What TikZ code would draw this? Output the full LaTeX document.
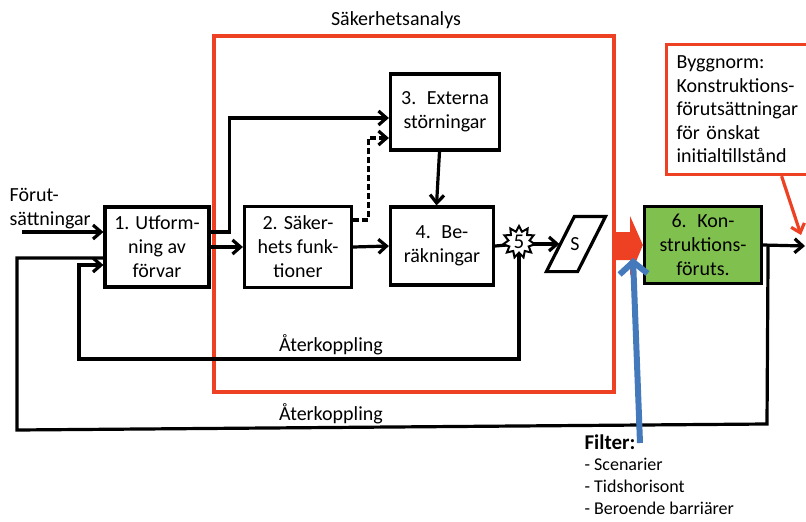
\documentclass[tikz,border=0pt]{standalone}
\usepackage{fontspec}
\setmainfont{Carlito}
\usetikzlibrary{shapes,shapes.geometric,arrows.meta}
\definecolor{sred}{RGB}{238,65,36}
\definecolor{sblue}{RGB}{68,122,187}
\definecolor{sgreen}{RGB}{128,192,78}

\begin{document}
\begin{tikzpicture}[x=1pt,y=-1pt,line width=3.2pt,
	  >={Straight Barb[length=8pt,width=14pt]},
	  every node/.append style={font=\fontsize{20}{24}\selectfont}]
	  \tikzstyle{box} = [draw,rectangle,align=center,inner sep=2pt]
	  \tikzstyle{word} = [align=left,inner sep=0pt]
	  \clip (0,0) rectangle (806,522);
	  % safety analysis frame
	  \node (safety) [draw=sred,minimum width=400,minimum height=356] at (414,214) {};
	  \node (lbl_safety) at (396,20) {Säkerhetsanalys};
	  % blocks
	  \node (box_1) [box,minimum width=104,minimum height=80] at (157,247) {1. Utform-\\ning av\\förvar};
	  \node (box_2) [box,minimum width=107,minimum height=81] at (298,247) {2. Säker-\\hets funk-\\tioner};
	  \node (box_3) [box,minimum width=109,minimum height=76] at (445,112) {3.~ Externa\\störningar};
	  \node (box_4) [box,minimum width=103,minimum height=78] at (442,246) {4.~ Be-\\räkningar};
	  \node (box_6) [box,fill=sgreen,minimum width=117,minimum height=77] at (703,245) {6.~ Kon-\\struktions-\\föruts.};
	  \node (s_par) [minimum width=28,minimum height=52,inner sep=0pt] at (575,244) {S};
	  \node (byg) [draw=sred,anchor=north west,minimum width=160,minimum height=130,
	    text width=140,inner xsep=8pt,align=left,font=\fontsize{20}{23.5}\selectfont] at (665,43)
	    {Byggnorm:\\Konstruktions-\\förutsättningar\\för önskat\\initialtillstånd};
	  \node (pre) [word,anchor=west] at (8,209) {Förut-\\sättningar};
	  \node (fb_lbl_1) at (331,345) {Återkoppling};
	  \node (fb_lbl_2) at (331,414) {Återkoppling};
	  \node (filter) [word,anchor=south west,font=\fontsize{21}{21}\selectfont\bfseries] at (583,451) {Filter:};
	  \node (filter_list) [word,anchor=north west,font=\fontsize{18}{22}\selectfont] at (583,457)
	    {- Scenarier\\- Tidshorisont\\- Beroende barriärer};
	  \coordinate (in_1) at (22,232);
	  \coordinate (out) at (805,246);
	  \coordinate (fb_1) at (79,359);
	  \coordinate (fb_2a) at (767,424);
	  \coordinate (fb_2b) at (17,430);
	  \coordinate (f_top) at (640,443);
	  \coordinate (f_tip) at (633,258);
	  % connectors
	  \draw[->] (in_1) -- ([yshift=15pt]box_1.west);
	  \draw[->] (box_1.east) -- (box_2.west);
	  \draw[->] ([yshift=15pt]box_1.east) -- ++(19,0) |- ([yshift=-6pt]box_3.west);
	  \draw[->,dashed,dash pattern=on 6pt off 3pt] ([yshift=27pt]box_2.east) -- ++(15,0) |- ([yshift=-26pt]box_3.west);
	  \draw[->] ([xshift=-5.5pt]box_3.south) -- ([xshift=-5.5pt]box_4.north);
	  \draw[->] (box_2.east) -- (box_4.west);
	  \draw (box_4.east) -- (519,244);
	  \draw[->] (519,244) -- (s_par.west);
	  \draw ([xshift=15pt]s_par.north west) -- ([xshift=15pt]s_par.north east)
	    -- ([xshift=-13pt]s_par.south east) -- ([xshift=-13pt]s_par.south west) -- cycle;
	  \draw[->] (519,244) |- (fb_1) |- ([yshift=-18pt]box_1.west);
	  \draw[->] (box_6.east) -- (out);
	  \draw ([xshift=5pt]box_6.east) -- (fb_2a) -- (fb_2b) |- ([yshift=-11pt]box_1.west);
	  \node (s_5) [star,star points=11,star point ratio=1.5,draw,fill=white,line width=2pt,
	    minimum size=32,inner sep=0pt,font=\fontsize{21}{21}\selectfont] at (519,242) {5};
	  % red transfer arrow
	  \fill[sred] (614,232) -- (630,232) -- (630,216) -- (box_6.west) -- (630,276) -- (630,260) -- (614,260) -- cycle;
	  \draw[sred,->] ([xshift=35pt]byg.south) -- ([xshift=-4pt,yshift=11pt]out);
	  \draw[sblue,line width=6pt,-{Straight Barb[length=12pt,width=28pt]}] (f_top) -- (f_tip);
\end{tikzpicture}
\end{document}
